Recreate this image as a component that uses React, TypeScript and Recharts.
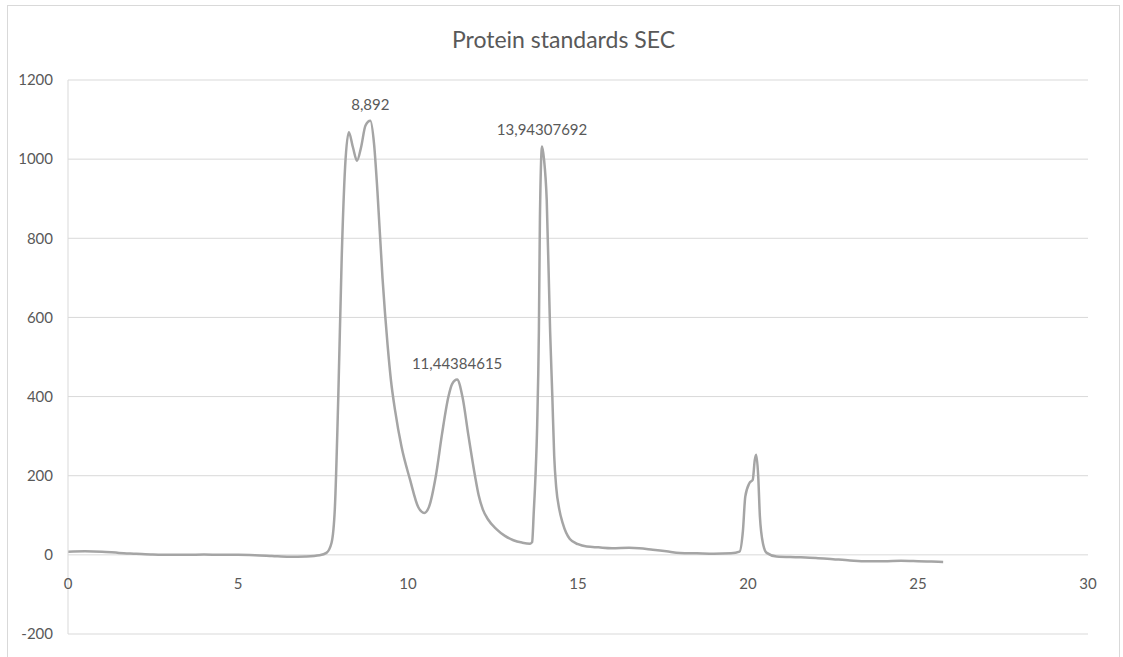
import React from 'react';
import { LineChart, Line, XAxis, YAxis, CartesianGrid, LabelList } from 'recharts';

// Elution time (min) and detector signal
const elutionTime = [
  0, 0.5, 1.0, 1.5, 2.0, 2.5, 3.0, 3.5, 4.0, 4.5, 5.0, 5.5, 6.0, 6.5, 7.0, 7.4,
  7.6, 7.75, 7.85, 7.95, 8.05, 8.15, 8.26, 8.38, 8.5, 8.62, 8.75, 8.892, 9.0, 9.1,
  9.25, 9.4, 9.5, 9.62, 9.81, 10.06, 10.3, 10.48, 10.62, 10.82, 11.0, 11.19, 11.3,
  11.44384615, 11.6, 11.78, 11.97, 12.08, 12.2, 12.35, 12.6, 12.85, 13.1, 13.35, 13.59,
  13.65, 13.7, 13.75, 13.8, 13.85, 13.88, 13.94307692, 14.0, 14.08, 14.18, 14.245,
  14.3, 14.36, 14.45, 14.55, 14.76, 15.0, 15.26, 15.6, 16.0, 16.5, 16.8, 17.2, 17.6,
  18.0, 18.5, 19.0, 19.5, 19.75, 19.85, 19.92, 20.04, 20.14, 20.2, 20.24, 20.3, 20.35,
  20.45, 20.55, 20.84, 21.5, 22.0, 22.5, 23.0, 23.5, 24.0, 24.5, 25.0, 25.4, 25.74,
];

const signal = [
  8, 9, 8, 5, 3, 1, 0, 0, 1, 0, 0, -1, -3, -5, -4, -1,
  5, 30, 120, 400, 750, 980, 1068, 1030, 996, 1030, 1085, 1097, 1040, 920,
  700, 530, 440, 365, 273, 190, 121, 106, 122, 200, 305, 400, 432,
  443, 400, 300, 200, 150, 115, 90, 65, 48, 37, 31, 28,
  32, 110, 200, 330, 569, 850, 1032, 1000, 897, 565, 400,
  250, 170, 115, 80, 40, 27, 21, 19, 17, 18, 17, 13, 9,
  5, 4, 3, 4, 8, 60, 147, 181, 190, 240, 253, 200, 97,
  25, 5, -4, -6, -8, -11, -14, -16, -16, -15, -16, -17, -18,
];

// Peak retention times that get a label
const peakTimes = [8.892, 11.44384615, 13.94307692];

const xTicks = [0, 5, 10, 15, 20, 25, 30];
const yTicks = [-200, 0, 200, 400, 600, 800, 1000, 1200];

const Y_MIN = -200;
const Y_MAX = 1200;
const PLOT_HEIGHT = 554;
const FONT = 'Lato, "Open Sans", sans-serif';
const TEXT = '#595959';
const GRID = '#d9d9d9';

const chartData = elutionTime.map((t, i) => ({
  t,
  signal: signal[i],
  peak: peakTimes.includes(t) ? String(t).replace('.', ',') : null,
}));

// x labels sit under the zero line instead of the plot bottom
const ZeroLineTick = ({ x, y, payload }: any) => {
  const zeroOffset = (PLOT_HEIGHT * (0 - Y_MIN)) / (Y_MAX - Y_MIN);
  return (
    <text
      x={x}
      y={y - zeroOffset + 28}
      textAnchor="middle"
      dominantBaseline="central"
      fill={TEXT}
      fontSize={15}
      fontFamily={FONT}
    >
      {payload.value}
    </text>
  );
};

const PeakLabel = ({ x, y, value }: any) => {
  if (!value) return null;
  return (
    <text
      x={x}
      y={y - 17}
      textAnchor="middle"
      dominantBaseline="central"
      fill={TEXT}
      fontSize={15}
      fontFamily={FONT}
    >
      {value}
    </text>
  );
};

export default function App() {
  return (
    <div
      style={{
        position: 'absolute',
        left: 7,
        top: 5,
        width: 1113,
        height: 660,
        border: `1px solid ${GRID}`,
        boxSizing: 'border-box',
        background: '#fff',
      }}
    >
      <div
        style={{
          position: 'absolute',
          left: 0,
          right: 0,
          top: 18,
          textAlign: 'center',
          fontFamily: FONT,
          fontSize: 23,
          lineHeight: '30px',
          color: TEXT,
        }}
      >
        Protein standards SEC
      </div>
      <LineChart
        width={1111}
        height={658}
        data={chartData}
        margin={{ top: 74, right: 31, bottom: 0, left: 0 }}
      >
        <CartesianGrid vertical={false} stroke={GRID} strokeWidth={1} />
        <XAxis
          dataKey="t"
          type="number"
          domain={[0, 30]}
          ticks={xTicks}
          height={30}
          axisLine={false}
          tickLine={false}
          tickSize={0}
          tickMargin={0}
          tick={<ZeroLineTick />}
        />
        <YAxis
          type="number"
          domain={[Y_MIN, Y_MAX]}
          ticks={yTicks}
          width={60}
          axisLine={{ stroke: GRID }}
          tickLine={false}
          tickMargin={9}
          tick={{ fill: TEXT, fontSize: 15, fontFamily: FONT }}
        />
        <Line
          type="monotone"
          dataKey="signal"
          stroke="#a5a5a5"
          strokeWidth={2.5}
          dot={false}
          isAnimationActive={false}
        >
          <LabelList dataKey="peak" content={<PeakLabel />} />
        </Line>
      </LineChart>
    </div>
  );
}
